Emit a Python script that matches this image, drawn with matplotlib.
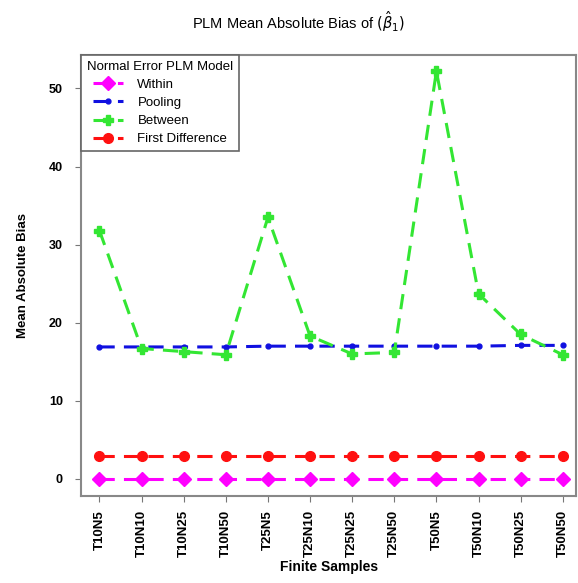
import matplotlib
matplotlib.use("Agg")
import matplotlib.pyplot as plt

categories = ["T10N5", "T10N10", "T10N25", "T10N50", "T25N5", "T25N10",
              "T25N25", "T25N50", "T50N5", "T50N10", "T50N25", "T50N50"]
within = [0.0] * 12
pooling = [16.9, 16.9, 16.9, 16.9, 17.0, 17.0, 17.0, 17.0, 17.0, 17.0, 17.1, 17.1]
between = [31.8, 16.7, 16.3, 15.9, 33.5, 18.3, 16.0, 16.2, 52.2, 23.7, 18.5, 15.9]
first_diff = [3.0] * 12
yticks = [0, 10, 20, 30, 40, 50]

plt.rcParams['font.family'] = ['Liberation Sans', 'DejaVu Sans']

fig = plt.figure(figsize=(5.78, 5.83), dpi=100)
ax = fig.add_axes([0.140, 0.149, 0.857, 0.757])

x = list(range(1, len(categories) + 1))
lw = 2.2
dash = (5, 3)
ax.plot(x, within, color='#ff00ff', lw=lw, dashes=dash, marker='D', ms=7,
        label='Within', zorder=3)
ax.plot(x, pooling, color='#1010e0', lw=lw, dashes=dash, marker='o', ms=3.5,
        label='Pooling', zorder=3)
ax.plot(x, between, color='#33e633', lw=lw, dashes=dash, marker='P', ms=6.5,
        label='Between', zorder=4)
ax.plot(x, first_diff, color='#ff1010', lw=lw, dashes=dash, marker='o', ms=7,
        label='First Difference', zorder=3)

ax.set_xlim(0.56, 12.32)
ax.set_ylim(-2.2, 54.3)
ax.set_xticks(x)
ax.set_xticklabels(categories, rotation=90, fontsize=9.5, fontweight='bold')
ax.set_yticks(yticks)
ax.set_yticklabels([str(v) for v in yticks], fontsize=9, fontweight='bold')
ax.tick_params(axis='x', length=4, color='#777777', pad=6)
ax.tick_params(axis='y', length=4, color='#777777', pad=9)
for s in ax.spines.values():
    s.set_color('#888888')
    s.set_linewidth(1.5)

ax.set_xlabel('Finite Samples', fontsize=10, fontweight='bold', labelpad=2)
ax.set_ylabel('Mean Absolute Bias', fontsize=9.5, fontweight='bold', labelpad=14)

fig.text(0.517, 0.963, r'PLM Mean Absolute Bias of $(\hat{\beta}_1)$',
         ha='center', va='center', fontsize=10.5)

leg = ax.legend(loc='upper left', bbox_to_anchor=(0.0, 1.0), borderaxespad=0,
                title='Normal Error PLM Model', title_fontsize=9.5, fontsize=9.5,
                fancybox=False, frameon=True, handlelength=2.3,
                labelspacing=0.45, borderpad=0.45, handletextpad=1.1)
leg.get_frame().set_edgecolor('#666666')
leg.get_frame().set_linewidth(1.2)
leg.get_frame().set_alpha(1)

fig.savefig('out.png', dpi=100)
